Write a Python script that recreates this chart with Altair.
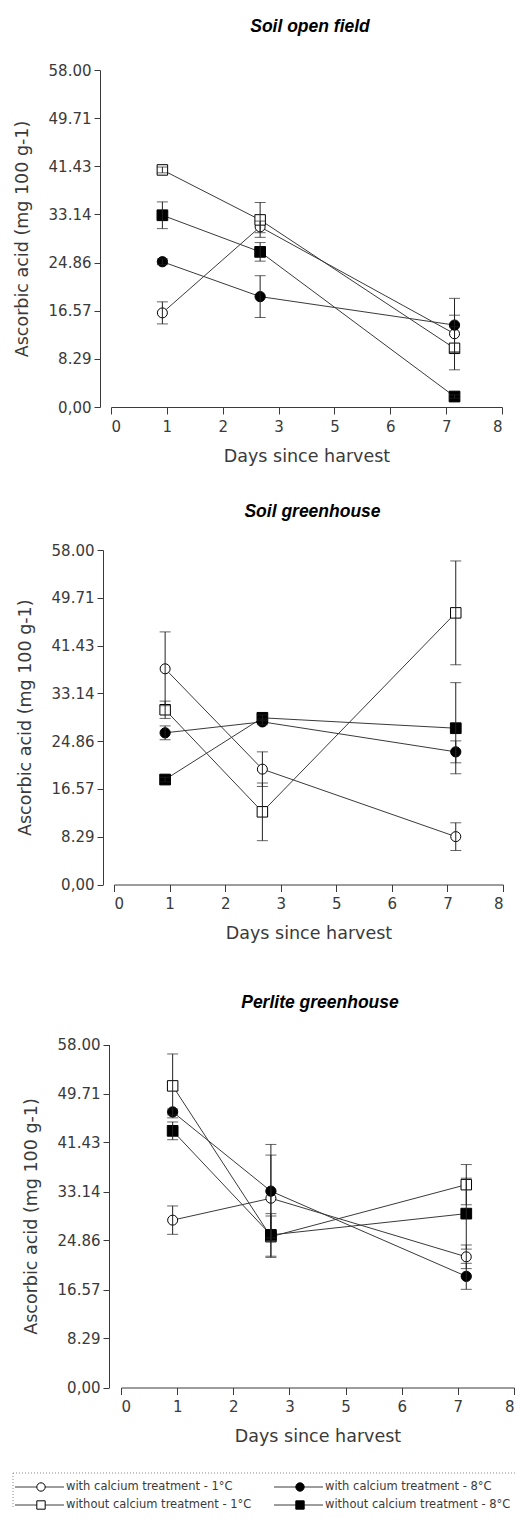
import altair as alt
import pandas as pd

# ---------------- data ----------------
panel_titles = ["Soil open field", "Soil greenhouse", "Perlite greenhouse"]
series_names = [
    "with calcium treatment - 1°C",
    "with calcium treatment - 8°C",
    "without calcium treatment - 1°C",
    "without calcium treatment - 8°C",
]

x_tick_labels = ["0", "1", "2", "3", "5", "6", "7", "8"]
y_tick_labels = ["0,00", "8.29", "16.57", "24.86", "33.14", "41.43", "49.71", "58.00"]
# sampling points, as positions on the (evenly spaced) day axis
sample_positions = [0.92, 2.67, 6.15]

# means per series (rows follow series_names), columns = sampling points
open_field_means = [[16.2, 31.0, 12.6], [25.0, 19.0, 14.1], [40.8, 32.2, 10.1], [33.0, 26.7, 1.8]]
open_field_errors = [[1.9, 1.0, 3.2], [0.5, 3.6, 4.6], [0.5, 3.0, 3.7], [2.3, 1.6, 0.3]]
greenhouse_means = [[37.4, 20.0, 8.3], [26.3, 28.2, 23.0], [30.3, 12.6, 47.1], [18.2, 28.9, 27.1]]
greenhouse_errors = [[6.4, 3.0, 2.4], [1.2, 0.5, 1.9], [1.5, 5.0, 9.0], [0.4, 0.5, 7.9]]
perlite_means = [[28.3, 32.0, 22.1], [46.6, 33.2, 18.8], [51.0, 25.5, 34.3], [43.4, 25.8, 29.4]]
perlite_errors = [[2.4, 7.3, 2.0], [0.5, 7.9, 2.2], [5.4, 3.5, 3.4], [1.5, 3.6, 6.0]]

# ---------------- styling / layout ----------------
series_shapes = ["circle", "circle", "square", "square"]
series_fills = ["white", "black", "white", "black"]
series_sizes = [100, 115, 100, 140]
FONT = "DejaVu Sans"
TITLE_FONT = "Liberation Sans"
INK = "#3a3a3a"
PLOT_W = 404

y_tick_values = [float(s.replace(",", ".")) for s in y_tick_labels]
x_label_expr = "[" + ",".join("'%s'" % s for s in x_tick_labels) + "][round(datum.value)]"
y_label_expr = ("[" + ",".join("'%s'" % s for s in y_tick_labels) + "][indexof(["
                + ",".join(repr(v) for v in y_tick_values) + "], datum.value)]")

shape_scale = alt.Scale(domain=series_names, range=series_shapes)
fill_scale = alt.Scale(domain=series_names, range=series_fills)
size_scale = alt.Scale(domain=series_names, range=series_sizes)


def make_panel(title, means, errors, y_axis_offset, x_range, top_gap, plot_h,
               title_offset, title_dx):
    rows = []
    for si, name in enumerate(series_names):
        for di, pos in enumerate(sample_positions):
            m = means[si][di]
            e = errors[si][di]
            rows.append(dict(series=name, pos=pos, value=m, lo=m - e, hi=m + e, k=di))
    df = pd.DataFrame(rows)
    H = top_gap + plot_h
    xs = alt.Scale(domain=[0, 7], range=x_range, nice=False, zero=False)
    ys = alt.Scale(domain=[0, 58], range=[H, top_gap], nice=False, zero=False)
    x_axis = alt.Axis(values=list(range(8)), labelExpr=x_label_expr,
                      title="Days since harvest", tickSize=7, labelPadding=5,
                      titlePadding=13)
    y_axis = alt.Axis(values=y_tick_values, labelExpr=y_label_expr,
                      title="Ascorbic acid (mg 100 g-1)", offset=y_axis_offset,
                      tickSize=6, labelPadding=3, titlePadding=17)
    base = alt.Chart(df)
    x_enc = alt.X("pos:Q", scale=xs, axis=x_axis)
    y_enc = alt.Y("value:Q", scale=ys, axis=y_axis)

    lines = base.mark_line(color=INK, strokeWidth=1).encode(
        x=x_enc, y=y_enc, detail="series:N", order="k:Q")
    points = base.mark_point(filled=True, stroke="black", strokeWidth=1,
                             opacity=1).encode(
        x=alt.X("pos:Q", scale=xs),
        y=alt.Y("value:Q", scale=ys),
        shape=alt.Shape("series:N", scale=shape_scale, legend=None),
        fill=alt.Fill("series:N", scale=fill_scale, legend=None),
        size=alt.Size("series:N", scale=size_scale, legend=None),
    )
    bars = base.mark_rule(color="#222222", strokeWidth=1).encode(
        x=alt.X("pos:Q", scale=xs), y=alt.Y("lo:Q", scale=ys), y2="hi:Q")
    cap_lo = base.mark_tick(orient="horizontal", size=11, thickness=1,
                            color="#222222").encode(
        x=alt.X("pos:Q", scale=xs), y=alt.Y("lo:Q", scale=ys))
    cap_hi = base.mark_tick(orient="horizontal", size=11, thickness=1,
                            color="#222222").encode(
        x=alt.X("pos:Q", scale=xs), y=alt.Y("hi:Q", scale=ys))

    return alt.layer(lines, points, bars, cap_lo, cap_hi).properties(
        width=PLOT_W, height=H,
        title=alt.TitleParams(title, font=TITLE_FONT, fontSize=17.5, fontStyle="italic",
                              fontWeight="bold", color="black", anchor="middle",
                              frame="group", baseline="middle",
                              offset=title_offset, dx=title_dx),
    )


p1 = make_panel(panel_titles[0], open_field_means, open_field_errors,
                11, [0, 391], 0, 337, 19, -3)
p2 = make_panel(panel_titles[1], greenhouse_means, greenhouse_errors,
                8, [3, 392], 143, 334.5, -122, -0.5)
p3 = make_panel(panel_titles[2], perlite_means, perlite_errors,
                2, [10, 403], 159.5, 343, -135.5, 7)

# ---------------- legend panel (drawn from the series lists) ----------------
LEG_TOP, LEG_BOTTOM = 1387, 1508
leg_col_x = [19, 278]
leg_row_y = [1486, 1504]
leg_rows = []
for i, name in enumerate(series_names):
    x0 = leg_col_x[i % 2]
    y0 = leg_row_y[i // 2]
    leg_rows.append(dict(series=name, x0=x0, x1=x0 + 49, xm=x0 + 26, xt=x0 + 51, y=y0))
leg_df = pd.DataFrame(leg_rows)
box_df = pd.DataFrame([dict(x0=17, x1=519, y0=1472, y1=LEG_BOTTOM)])

lx = alt.Scale(domain=[0, 529], range=[-115, 414], nice=False, zero=False)
ly = alt.Scale(domain=[LEG_TOP, LEG_BOTTOM], range=[0, LEG_BOTTOM - LEG_TOP],
               nice=False, zero=False)

box_top = alt.Chart(box_df).mark_rule(color="#8a8a8a", strokeDash=[1, 2],
                                      strokeWidth=1).encode(
    x=alt.X("x0:Q", scale=lx, axis=None), x2="x1:Q",
    y=alt.Y("y0:Q", scale=ly, axis=None))
box_left = alt.Chart(box_df).mark_rule(color="#8a8a8a", strokeDash=[1, 2],
                                       strokeWidth=1).encode(
    x=alt.X("x0:Q", scale=lx, axis=None),
    y=alt.Y("y0:Q", scale=ly, axis=None), y2="y1:Q")
leg_lines = alt.Chart(leg_df).mark_rule(color=INK, strokeWidth=1).encode(
    x=alt.X("x0:Q", scale=lx, axis=None), x2="x1:Q",
    y=alt.Y("y:Q", scale=ly, axis=None))
leg_pts = alt.Chart(leg_df).mark_point(filled=True, stroke="black", strokeWidth=1,
                                       size=70, opacity=1).encode(
    x=alt.X("xm:Q", scale=lx, axis=None),
    y=alt.Y("y:Q", scale=ly, axis=None),
    shape=alt.Shape("series:N", scale=shape_scale, legend=None),
    fill=alt.Fill("series:N", scale=fill_scale, legend=None))
leg_text = alt.Chart(leg_df).mark_text(align="left", baseline="middle", font=FONT,
                                       fontSize=11.5, color=INK).encode(
    x=alt.X("xt:Q", scale=lx, axis=None),
    y=alt.Y("y:Q", scale=ly, axis=None),
    text="series:N")
legend_panel = alt.layer(box_top, box_left, leg_lines, leg_pts, leg_text).properties(
    width=PLOT_W, height=LEG_BOTTOM - LEG_TOP)

chart = alt.vconcat(p1, p2, p3, legend_panel, spacing=0, bounds="flush").properties(
    padding={"left": 4, "top": 9, "right": 0, "bottom": 0}
).configure_axis(
    grid=False,
    labelFont=FONT, labelFontSize=15, labelColor=INK,
    titleFont=FONT, titleFontSize=17.5, titleFontWeight="normal", titleColor=INK,
    domainColor=INK, tickColor=INK, domainWidth=1, tickWidth=1,
).configure_view(stroke=None)

chart.save("out.html", embed_options={"renderer": "svg", "actions": False})
